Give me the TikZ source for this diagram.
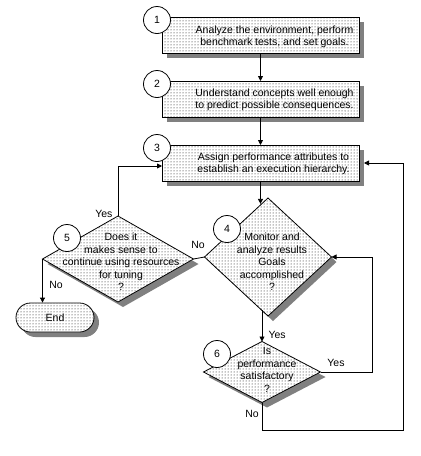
\documentclass[tikz,border=0pt]{standalone}
\usepackage{fontspec}
\setmainfont{Liberation Sans}
\usetikzlibrary{arrows.meta,calc,positioning,patterns,shadows,shapes.geometric,shapes.misc}
\tikzset{
    block shadow/.style = {
        drop shadow = {shadow xshift=5pt, shadow yshift=-5pt, fill=black!50, opacity=1},
        },
    dotted fill/.style = {
        preaction = {fill=white},
        pattern = dots,
        },
    flow text/.style = {
        align = center,
        font = \fontsize{10.5}{12.5}\selectfont,
        },
    flow line/.style = {
        draw,
        line width = 0.8pt,
        },
}

\begin{document}
\begin{tikzpicture}[
            x=1pt, y=-1pt,
            >={Triangle[length=5pt, width=5pt]},
            StepBlock/.style={flow line, minimum width=197pt, minimum height=36pt, inner sep=0pt, outer sep=0pt, block shadow, dotted fill},
            DecisionBlock/.style={flow line, diamond, inner sep=0pt, outer sep=0pt, block shadow, dotted fill},
            EndBlock/.style={flow line, rounded rectangle, minimum width=78pt, minimum height=29pt, inner sep=0pt, block shadow, dotted fill, flow text},
            NumCircle/.style={flow line, circle, fill=white, minimum size=27pt, inner sep=0pt, flow text},
            every label/.style={flow text},
            node distance=28pt
            ]
            \useasboundingbox (0,0) rectangle (421,456);

            % steps 1 to 3
            \node [StepBlock, label={[xshift=14pt, yshift=-2pt]center:{Analyze the environment, perform\\benchmark tests, and set goals.}}] (b1) at (260.5,35) {};
            \node [StepBlock, below=of b1, label={[xshift=14pt, yshift=-1pt]center:{Understand concepts well enough\\to predict possible consequences.}}] (b2) {};
            \node [StepBlock, below=of b2, label={[xshift=13pt, yshift=-1pt]center:{Assign performance attributes to\\establish an execution hierarchy.}}] (b3) {};

            % decisions
            \node [DecisionBlock, minimum width=127pt, minimum height=118pt, label={[xshift=4pt, yshift=-5pt]center:{Monitor and\\analyze results\\Goals\\accomplished\\?}}] (d4) at (268,257) {};
            \node [DecisionBlock, minimum width=151pt, minimum height=86pt, label={[xshift=3pt, yshift=-3pt]center:{Does it\\makes sense to\\continue using resources\\for tuning\\?}}] (d5) at (118,259) {};
            \node [DecisionBlock, minimum width=117pt, minimum height=61pt, label={[xshift=5pt, yshift=2pt]center:{Is\\performance\\satisfactory\\?}}] (d6) at (262,372) {};
            \node [EndBlock] (fin) at (55,317.5) {End};

            % step numbers
            \node [NumCircle] (c1) at ([xshift=-5pt, yshift=-3pt]b1.north west) {1};
            \node [NumCircle] (c2) at ([xshift=-5pt, yshift=-3pt]b2.north west) {2};
            \node [NumCircle] (c3) at ([xshift=-5pt, yshift=-3pt]b3.north west) {3};
            \node [NumCircle] (c4) at (227,229) {4};
            \node [NumCircle] (c5) at (67,238) {5};
            \node [NumCircle] (c6) at (217,354) {6};

            \coordinate (d4in) at ($(d4.north)!0.1!(d4.west)$);
            \coordinate (d4out) at ($(d4.south)!0.1!(d4.west)$);
            \coordinate (loop) at (403,430);

            \draw[flow line, ->] (b1) -- (b2);
            \draw[flow line, ->] (b2) -- (b3);
            \draw[flow line, ->] (b3.south) -- (b3.south |- d4in);
            \draw[flow line, ->] (d6.north |- d4out) -- (d6.north);
            \draw[flow line, ->] (d6.east) -- ++(52,0) |- (d4.east);
            \draw[flow line, ->] (d6.south) |- (loop) |- ([xshift=5pt]b3.east);
            \draw[flow line] (d4.west) -- (d5.east);
            \draw[flow line, ->] (d5.north) |- ([yshift=-3pt]b3.west);
            \draw[flow line, ->] (d5.west) -- (d5.west |- fin.north);

            % branch labels
            \node [flow text, anchor=east] (yes5) at ([xshift=-2pt, yshift=2pt]d5.north) {Yes};
            \node [flow text] (no5) at (56,285) {No};
            \node [flow text] (no4) at (198,245) {No};
            \node [flow text, anchor=west] (yes4) at (265,335) {Yes};
            \node [flow text] (yes6) at (336,363) {Yes};
            \node [flow text] (no6) at (252,414) {No};
\end{tikzpicture}
\end{document}
